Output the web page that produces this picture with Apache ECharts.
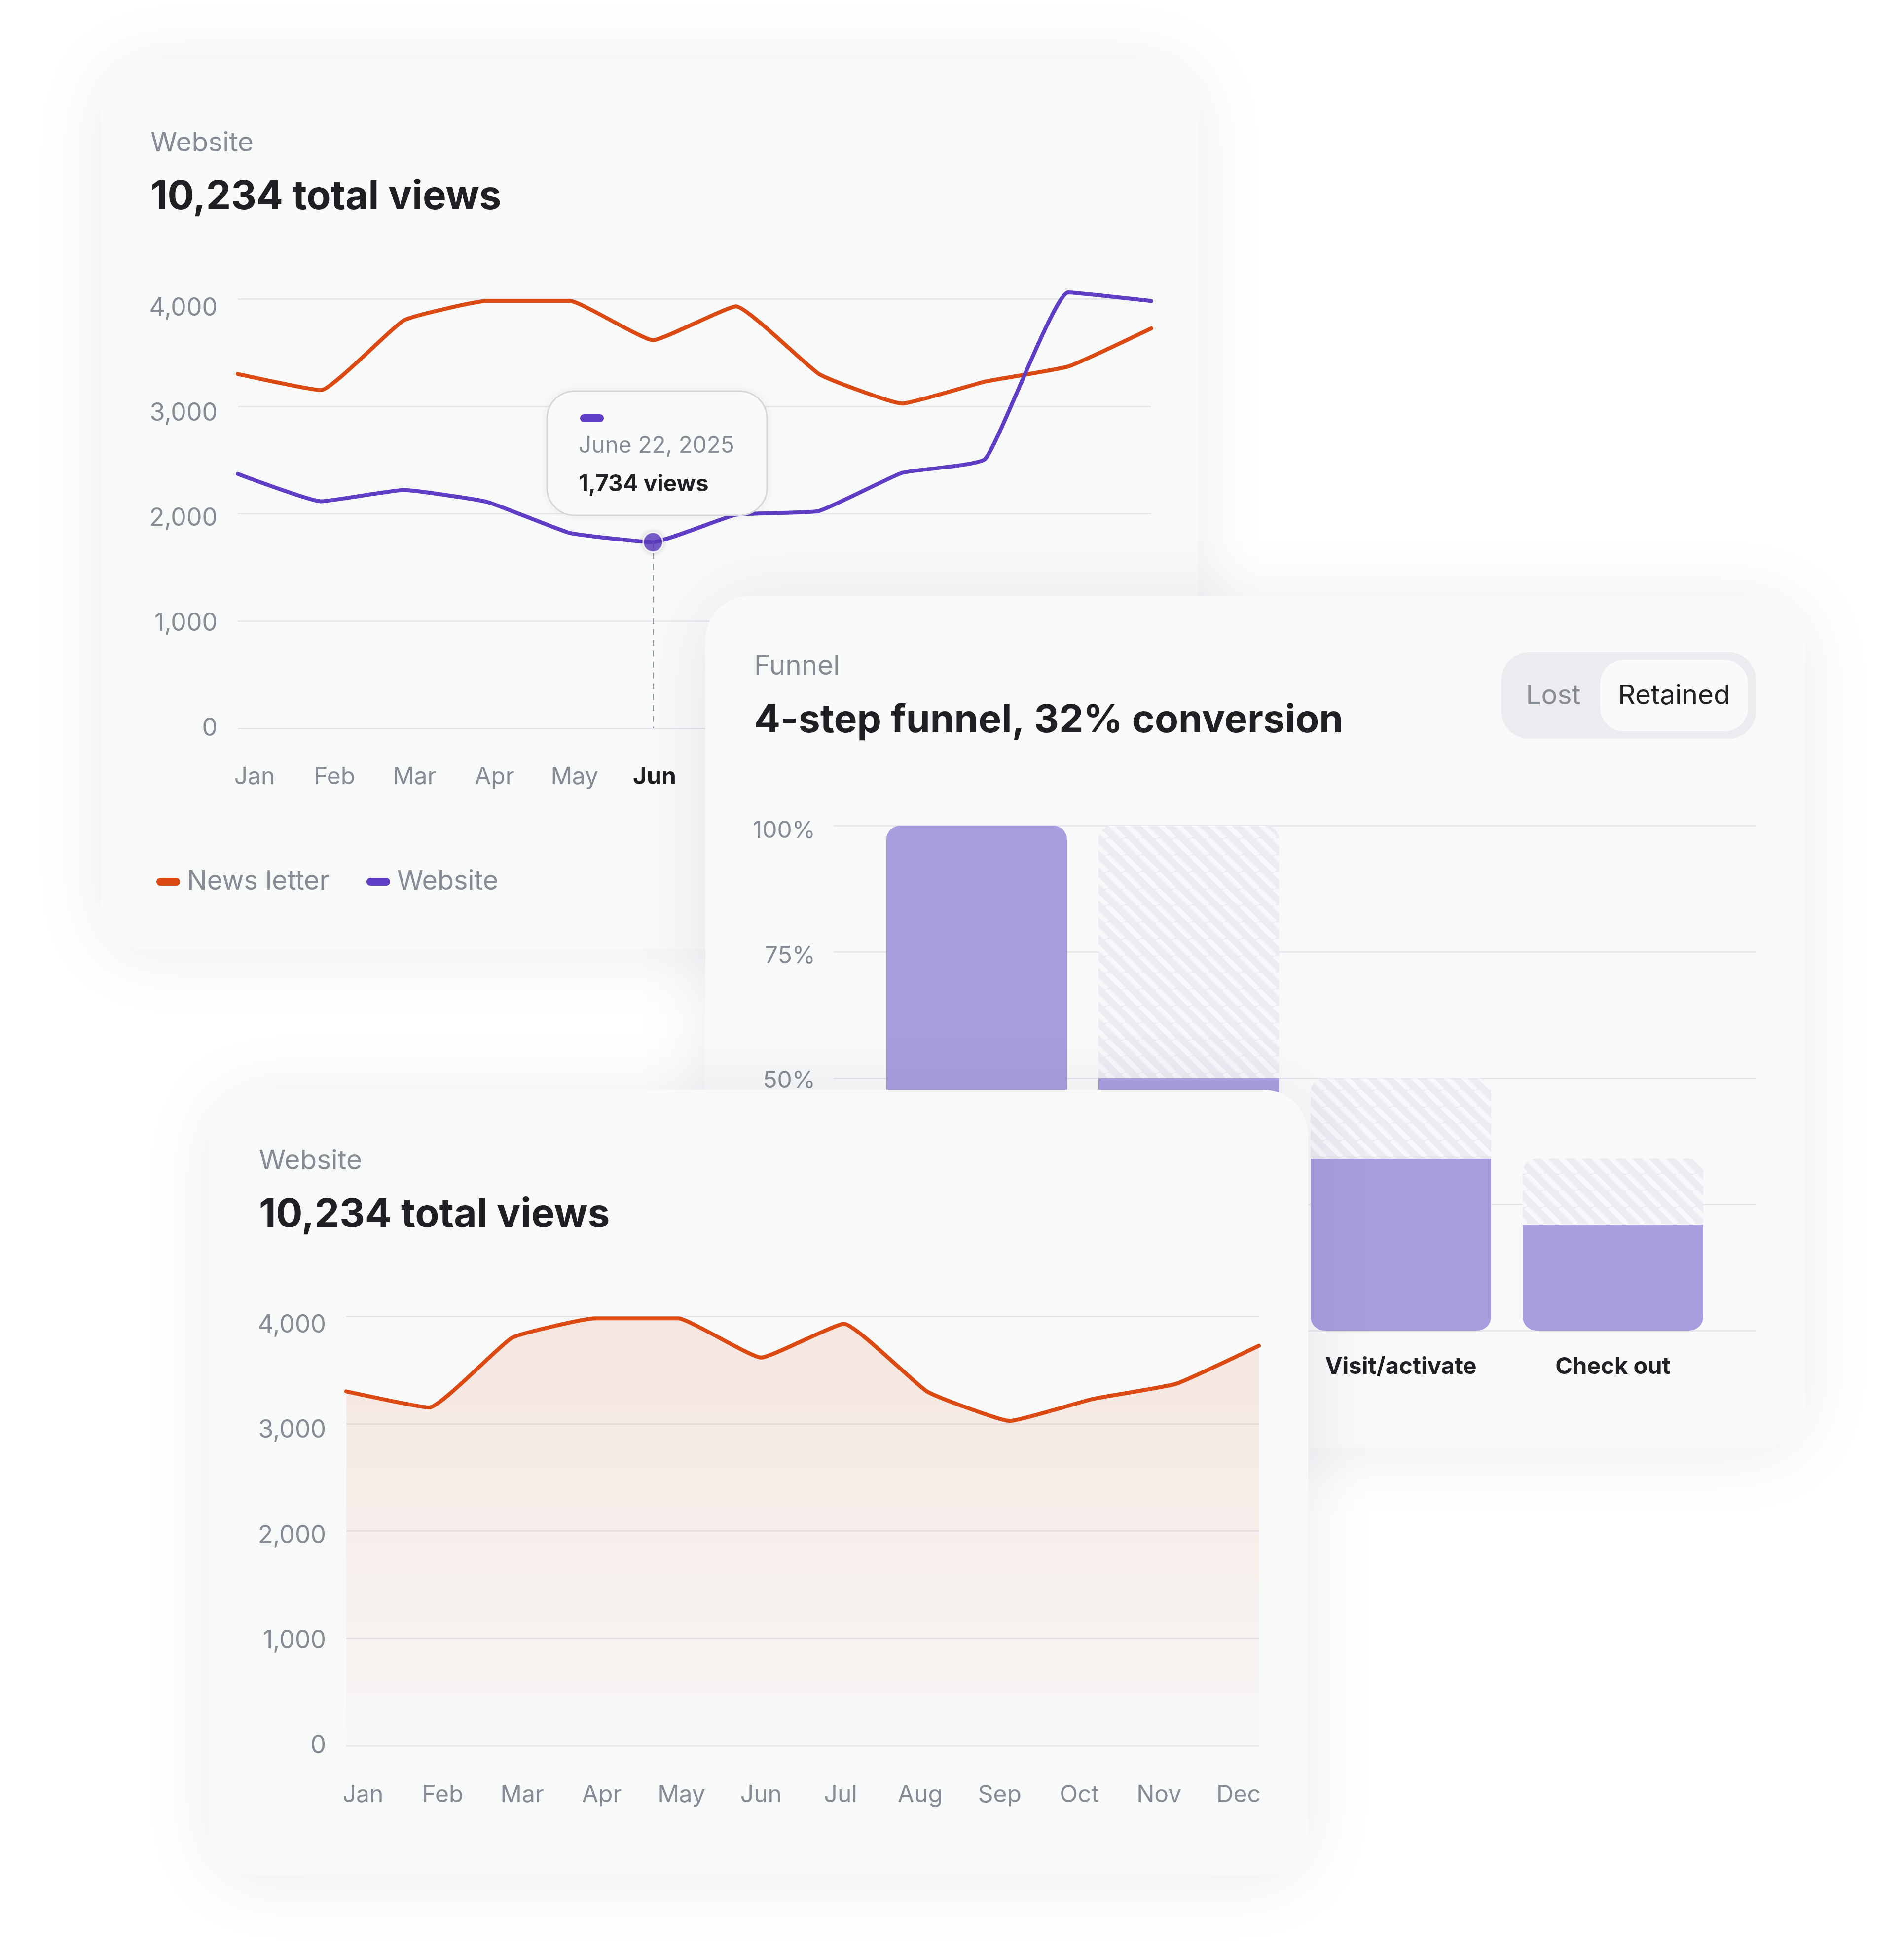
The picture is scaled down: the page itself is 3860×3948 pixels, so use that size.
<!DOCTYPE html>
<html><head><meta charset="utf-8">
<script src="https://cdn.jsdelivr.net/npm/echarts@6/dist/echarts.min.js"></script>
<style>html,body{margin:0;padding:0;background:#ffffff;}#c{width:3860px;height:3948px;}</style>
</head><body><div id="c"></div>
<script>
// ---------------- data ----------------
const months = ['Jan','Feb','Mar','Apr','May','Jun','Jul','Aug','Sep','Oct','Nov','Dec'];
const newsletterViews = [3300, 3150, 3800, 3980, 3980, 3615, 3930, 3300, 3025, 3230, 3370, 3725];
const websiteViews = [2370, 2115, 2220, 2110, 1820, 1734, 1990, 2025, 2380, 2510, 4060, 3980];
const viewAxis = {min: 0, max: 4000, step: 1000};
const highlightMonth = 'Jun';
const highlightDate = 'June 22, 2025';
const highlightValue = 1734;
const totalViews = 10234;
const funnelSteps = ['Sign up', 'Onboarding', 'Visit/activate', 'Check out'];
const funnelRetained = [100, 50, 34, 21];
const funnelLost = [0, 50, 16, 13];
const funnelAxis = {min: 0, max: 100, step: 25};
const conversionPct = 32;

// ---------------- style ----------------
const FONT = 'Inter, "Noto Sans", sans-serif';
const GRAY = '#878c94', DARK = '#1e2024', GRIDC = '#e6e6ec';
const ORANGE = '#db4a12', PURPLE = '#5f3dc4', BAR = '#aa9ddf';
const CARD = '#f8f9f9';

function hatch() {
  const W = 34, H = 34;
  const c = document.createElement('canvas');
  c.width = W; c.height = H;
  const g = c.getContext('2d');
  g.fillStyle = '#ebebf2'; g.fillRect(0, 0, W, H);
  g.strokeStyle = '#f8f8fa'; g.lineWidth = 10;
  for (let k = -1; k <= 1; k++) { g.beginPath(); g.moveTo(k * W, 0); g.lineTo(k * W + W, H); g.stroke(); }
  return c;
}

function card(x, y, w, h, z) {
  return {type: 'rect', z: z, silent: true, shape: {x: x, y: y, width: w, height: h, r: 90},
    style: {fill: CARD, shadowBlur: 150, shadowColor: 'rgba(30,30,70,0.08)', shadowOffsetY: 10}};
}
function txt(x, y, s, size, weight, color, z, align) {
  return {type: 'text', z: z, silent: true, x: x, y: y,
    style: {text: s, fontSize: size, fontWeight: weight, fontFamily: FONT, fill: color,
      align: align || 'left', verticalAlign: 'middle'}};
}
function rrect(x, y, w, h, r, style, z) {
  return {type: 'rect', z: z, silent: true, shape: {x: x, y: y, width: w, height: h, r: r}, style: style};
}

const fmt = v => v.toLocaleString('en-US');

const graphics = [
  // card 1
  card(205, 120, 2225, 1805, 1),
  txt(305, 290, 'Website', 55, 400, GRAY, 2),
  txt(305, 400, fmt(totalViews) + ' total views', 80, 700, DARK, 2),
  // tooltip
  rrect(1109, 793, 446, 252, 56, {fill: '#f9fafa', stroke: '#d6d6da', lineWidth: 3, shadowBlur: 24, shadowColor: 'rgba(0,0,0,0.05)'}, 6),
  rrect(1176, 840, 48, 16, 8, {fill: PURPLE}, 7),
  txt(1173, 904, highlightDate, 46, 400, GRAY, 7),
  txt(1173, 982, fmt(highlightValue) + ' views', 46, 700, DARK, 7),
  // card 2
  card(1430, 1208, 2230, 1727, 10),
  txt(1529, 1351, 'Funnel', 55, 400, GRAY, 11),
  txt(1529, 1461, funnelSteps.length + '-step funnel, ' + conversionPct + '% conversion', 78.5, 700, DARK, 11),
  rrect(3044, 1323, 516, 175, 56, {fill: '#ebebf0'}, 11),
  rrect(3244, 1338, 300, 145, 48, {fill: '#f9fafa'}, 12),
  txt(3149, 1411, 'Lost', 55, 400, GRAY, 13, 'center'),
  txt(3394, 1411, 'Retained', 55, 400, DARK, 13, 'center'),
  // card 3
  card(425, 2210, 2227, 1592, 20),
  txt(525, 2354, 'Website', 55, 400, GRAY, 21),
  txt(525, 2464, fmt(totalViews) + ' total views', 80, 700, DARK, 21)
];

const noLine = {axisLine: {show: false}, axisTick: {show: false}, splitLine: {show: false}};
const hidden = Object.assign({axisLabel: {show: false}}, noLine);
const monthLabel = (v) => v === highlightMonth ? '{b|' + v + '}' : v;
const yLab = (extra) => Object.assign({margin: 41, fontSize: 50, color: GRAY, fontFamily: FONT}, extra);

const option = {
  animation: false,
  backgroundColor: '#ffffff',
  graphic: {elements: graphics},
  legend: {
    z: 3, left: 312, top: 1756, selectedMode: false,
    data: ['News letter', 'Website'],
    icon: 'path://M8,0H40A8,8,0,0,1,40,16H8A8,8,0,0,1,8,0Z',
    itemWidth: 48, itemHeight: 16, itemGap: 75,
    textStyle: {fontSize: 54, color: GRAY, fontFamily: FONT, padding: [0, 0, 0, 9]}
  },
  grid: [
    {left: 482, top: 606, width: 1852, height: 871},    // 0 card1 plot
    {left: 516, top: 1476, width: 1784, height: 2},     // 1 card1 month labels
    {left: 482, top: 625, width: 10, height: 852},      // 2 card1 value labels
    {left: 1689, top: 1674, width: 1871, height: 1024}, // 3 card2 gridlines
    {left: 1765, top: 1674, width: 1720, height: 1024}, // 4 card2 bars
    {left: 1689, top: 1685, width: 10, height: 1013},   // 5 card2 percent labels
    {left: 702, top: 2669, width: 1850, height: 871},   // 6 card3 plot
    {left: 736, top: 3538, width: 1775, height: 2},     // 7 card3 month labels
    {left: 702, top: 2687, width: 10, height: 853}      // 8 card3 value labels
  ],
  xAxis: [
    Object.assign({gridIndex: 0, type: 'category', data: months, boundaryGap: false, z: 2}, hidden),
    Object.assign({gridIndex: 1, type: 'category', data: months, boundaryGap: false, z: 2,
      axisLabel: {interval: 0, margin: 74, fontSize: 48, color: GRAY, fontFamily: FONT, formatter: monthLabel,
        rich: {b: {fontSize: 48, fontWeight: 700, color: DARK, fontFamily: FONT}}}}, noLine),
    Object.assign({gridIndex: 2, type: 'category', data: months, z: 2}, hidden),
    Object.assign({gridIndex: 3, type: 'category', data: funnelSteps, z: 12}, hidden),
    Object.assign({gridIndex: 4, type: 'category', data: funnelSteps, z: 12,
      axisLabel: {interval: 0, margin: 50, fontSize: 47, fontWeight: 700, color: DARK, fontFamily: FONT}}, noLine),
    Object.assign({gridIndex: 5, type: 'category', data: funnelSteps, z: 12}, hidden),
    Object.assign({gridIndex: 6, type: 'category', data: months, boundaryGap: false, z: 22}, hidden),
    Object.assign({gridIndex: 7, type: 'category', data: months, boundaryGap: false, z: 22,
      axisLabel: {interval: 0, margin: 76, fontSize: 48, color: GRAY, fontFamily: FONT}}, noLine),
    Object.assign({gridIndex: 8, type: 'category', data: months, z: 22}, hidden)
  ],
  yAxis: [
    {gridIndex: 0, type: 'value', min: viewAxis.min, max: viewAxis.max, interval: viewAxis.step, z: 2,
      axisLine: {show: false}, axisTick: {show: false}, axisLabel: {show: false},
      splitLine: {lineStyle: {color: GRIDC, width: 3}}},
    Object.assign({gridIndex: 1, type: 'value', z: 2}, hidden),
    Object.assign({gridIndex: 2, type: 'value', min: viewAxis.min, max: viewAxis.max, interval: viewAxis.step, z: 2,
      axisLabel: yLab({formatter: fmt})}, noLine),
    {gridIndex: 3, type: 'value', min: funnelAxis.min, max: funnelAxis.max, interval: funnelAxis.step, z: 12,
      axisLine: {show: false}, axisTick: {show: false}, axisLabel: {show: false},
      splitLine: {lineStyle: {color: GRIDC, width: 3}}},
    Object.assign({gridIndex: 4, type: 'value', min: funnelAxis.min, max: funnelAxis.max, z: 12}, hidden),
    Object.assign({gridIndex: 5, type: 'value', min: funnelAxis.min, max: funnelAxis.max, interval: funnelAxis.step, z: 12,
      axisLabel: yLab({margin: 36, fontSize: 48, formatter: '{value}%'})}, noLine),
    {gridIndex: 6, type: 'value', min: viewAxis.min, max: viewAxis.max, interval: viewAxis.step, z: 22,
      axisLine: {show: false}, axisTick: {show: false}, axisLabel: {show: false},
      splitLine: {lineStyle: {color: GRIDC, width: 3}}},
    Object.assign({gridIndex: 7, type: 'value', z: 22}, hidden),
    Object.assign({gridIndex: 8, type: 'value', min: viewAxis.min, max: viewAxis.max, interval: viewAxis.step, z: 22,
      axisLabel: yLab({formatter: fmt})}, noLine)
  ],
  series: [
    {name: 'News letter', type: 'line', xAxisIndex: 0, yAxisIndex: 0, data: newsletterViews, z: 3,
      symbol: 'none', smooth: 0.12, clip: false, color: ORANGE,
      lineStyle: {width: 8, color: ORANGE, cap: 'round', join: 'round'}},
    {name: 'Website', type: 'line', xAxisIndex: 0, yAxisIndex: 0, data: websiteViews, z: 4,
      symbol: 'none', smooth: 0.12, clip: false, color: PURPLE,
      lineStyle: {width: 8, color: PURPLE, cap: 'round', join: 'round'},
      markLine: {silent: true, symbol: ['none', 'none'], label: {show: false},
        lineStyle: {type: [12, 10], color: '#8f939b', width: 3},
        data: [[{coord: [highlightMonth, highlightValue]}, {coord: [highlightMonth, viewAxis.min]}]]}},
    {name: 'highlight', type: 'scatter', xAxisIndex: 0, yAxisIndex: 0, z: 5, silent: true,
      data: [[highlightMonth, highlightValue]], symbol: 'circle', symbolSize: 40,
      itemStyle: {color: PURPLE, borderColor: '#ffffff', borderWidth: 3, shadowBlur: 12, shadowColor: 'rgba(0,0,0,0.2)'}},
    {name: 'Retained', type: 'bar', stack: 'funnel', xAxisIndex: 4, yAxisIndex: 4, z: 13, barWidth: 366,
      data: funnelRetained.map((v, i) => ({value: v, itemStyle: {color: BAR,
        borderRadius: funnelLost[i] === 0 ? [28, 28, 28, 28] : [0, 0, 28, 28]}}))},
    {name: 'Lost', type: 'bar', stack: 'funnel', xAxisIndex: 4, yAxisIndex: 4, z: 13, barWidth: 366,
      data: funnelLost, itemStyle: {color: {image: hatch(), repeat: 'repeat'}, borderRadius: [28, 28, 0, 0]}},
    {name: 'News letter', type: 'line', xAxisIndex: 6, yAxisIndex: 6, data: newsletterViews, z: 23,
      symbol: 'none', smooth: 0.12, clip: false, color: ORANGE,
      lineStyle: {width: 8, color: ORANGE, cap: 'round', join: 'round'},
      areaStyle: {color: {type: 'linear', x: 0, y: 0, x2: 0, y2: 1,
        colorStops: [{offset: 0, color: 'rgba(219,74,18,0.16)'}, {offset: 1, color: 'rgba(219,74,18,0.015)'}]}}}
  ]
};

const chart = echarts.init(document.getElementById('c'), null, {renderer: 'canvas', width: 3860, height: 3948});
chart.setOption(option);
</script></body></html>
